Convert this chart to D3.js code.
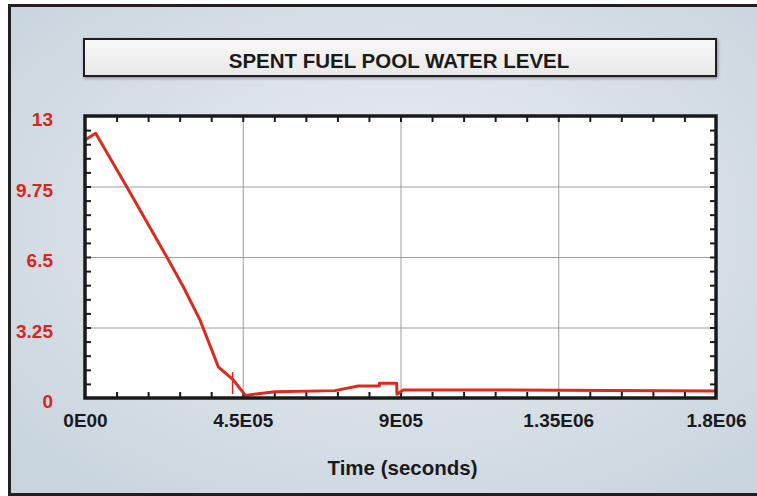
<!DOCTYPE html>
<html>
  <head>
    <title>Spent Fuel Pool Water Level</title>
    <style>
    body {
        margin: 0px;
        overflow: hidden;
        background: #ffffff;
    }

    text {
        font-family: "Liberation Sans", Arial, sans-serif;
        font-weight: bold;
    }

    .grid .tick line {
        stroke: #9c9c9c;
        stroke-width: 1;
    }

    .minor .tick line {
        stroke: #1a1a1a;
        stroke-width: 2;
    }
    </style>
    <script src="https://d3js.org/d3.v7.min.js"></script>
  </head>
  <body>

    <svg width="757" height="496"></svg>

    <script>
        // chart data
        const timeSec = [0, 30500, 119000, 233000, 280400, 328000, 380200, 423000, 457800,
            542000, 713000, 779600, 839500, 840000, 889000, 890000, 908000, 1126800, 1800000];
        const levelFt = [11.89, 12.2, 9.74, 6.51, 5.13, 3.6, 1.44, 0.83, 0.12,
            0.29, 0.34, 0.55, 0.55, 0.68, 0.68, 0.17, 0.37, 0.37, 0.32];

        const xTicks = [0, 450000, 900000, 1350000, 1800000];
        const xTickLabels = ['0E00', '4.5E05', '9E05', '1.35E06', '1.8E06'];
        const yTicks = [0, 3.25, 6.5, 9.75, 13];
        const yTickLabels = ['0', '3.25', '6.5', '9.75', '13'];

        // short red marker on the curve
        const markerTime = [421000];
        const markerRange = [0.18, 1.2];

        const chartTitle = 'SPENT FUEL POOL WATER LEVEL';
        const xAxisLabel = 'Time (seconds)';

        const svg = d3.select('svg');
        const width = +svg.attr('width');
        const height = +svg.attr('height');

        const margin = { top: 116, right: 41, bottom: 98, left: 85 };
        const innerWidth = width - margin.left - margin.right;
        const innerHeight = height - margin.top - margin.bottom;

        const defs = svg.append('defs');

        const bg = defs.append('radialGradient')
            .attr('id', 'bg')
            .attr('cx', '52%').attr('cy', '45%').attr('r', '70%');
        bg.append('stop').attr('offset', '0%').attr('stop-color', '#eceff2');
        bg.append('stop').attr('offset', '100%').attr('stop-color', '#c8d4de');

        const titleFill = defs.append('linearGradient')
            .attr('id', 'titleFill')
            .attr('x1', 0).attr('y1', 0).attr('x2', 0).attr('y2', 1);
        titleFill.append('stop').attr('offset', '0%').attr('stop-color', '#f8f8f8');
        titleFill.append('stop').attr('offset', '100%').attr('stop-color', '#e8e8e8');

        const shadow = defs.append('filter').attr('id', 'shadow')
            .attr('x', '-5%').attr('y', '-30%').attr('width', '110%').attr('height', '160%');
        shadow.append('feDropShadow')
            .attr('dx', 1).attr('dy', 1.5).attr('stdDeviation', 1.5)
            .attr('flood-color', '#000').attr('flood-opacity', 0.35);

        // background panel, frame on left, top and bottom only
        svg.append('rect')
            .attr('x', 0).attr('y', 0)
            .attr('width', width).attr('height', height)
            .attr('fill', '#ffffff');
        svg.append('rect')
            .attr('x', 9.5).attr('y', 5.5)
            .attr('width', width - 9.5).attr('height', height - 7)
            .attr('fill', 'url(#bg)');
        svg.append('path')
            .attr('d', `M${width},5.5H9.5V${height - 1.5}H${width}`)
            .attr('fill', 'none')
            .attr('stroke', '#231f20')
            .attr('stroke-width', 3);

        // title box
        svg.append('rect')
            .attr('x', 84).attr('y', 39)
            .attr('width', 632).attr('height', 37)
            .attr('fill', 'url(#titleFill)')
            .attr('stroke', '#231f20')
            .attr('stroke-width', 2)
            .attr('filter', 'url(#shadow)');
        svg.append('text')
            .attr('x', 399)
            .attr('y', 68)
            .attr('text-anchor', 'middle')
            .style('font-size', '20.5px')
            .attr('fill', '#1a1a1a')
            .text(chartTitle);

        const xScale = d3.scaleLinear()
            .domain([0, 1800000])
            .range([0, innerWidth]);

        const yScale = d3.scaleLinear()
            .domain([0, 13])
            .range([innerHeight, 0]);

        const g = svg.append('g')
            .attr('transform', `translate(${margin.left},${margin.top})`);

        g.append('rect')
            .attr('width', innerWidth)
            .attr('height', innerHeight)
            .attr('fill', '#ffffff');

        // grid lines
        const xGrid = g.append('g').attr('class', 'grid')
            .attr('transform', `translate(0,${innerHeight})`)
            .call(d3.axisBottom(xScale).tickValues(xTicks.slice(1, -1))
                .tickSize(-innerHeight).tickFormat(''));
        xGrid.select('.domain').remove();
        xGrid.selectAll('text').remove();

        const yGrid = g.append('g').attr('class', 'grid')
            .call(d3.axisLeft(yScale).tickValues(yTicks.slice(1, -1))
                .tickSize(-innerWidth).tickFormat(''));
        yGrid.select('.domain').remove();
        yGrid.selectAll('text').remove();

        // minor ticks, pointing inward on all four sides
        const xMinor = d3.range(1, 20).map(i => i * 90000);
        const yMinor = d3.range(1, 20).map(i => i * 0.65);

        const minorAxes = [
            [d3.axisBottom(xScale).tickValues(xMinor), `translate(0,${innerHeight})`],
            [d3.axisTop(xScale).tickValues(xMinor), 'translate(0,0)'],
            [d3.axisLeft(yScale).tickValues(yMinor), 'translate(0,0)'],
            [d3.axisRight(yScale).tickValues(yMinor), `translate(${innerWidth},0)`]
        ];
        minorAxes.forEach(([axis, tr]) => {
            const a = g.append('g').attr('class', 'minor')
                .attr('transform', tr)
                .call(axis.tickSize(-6).tickFormat(''));
            a.select('.domain').remove();
            a.selectAll('text').remove();
        });

        // the water level line
        const line = d3.line()
            .x((d, i) => xScale(timeSec[i]))
            .y(d => yScale(d));

        g.append('path')
            .datum(levelFt)
            .attr('fill', 'none')
            .attr('stroke', '#dc2a1f')
            .attr('stroke-width', 3)
            .attr('stroke-linejoin', 'round')
            .attr('d', line);

        g.selectAll('.marker').data(markerTime)
            .enter().append('line')
            .attr('class', 'marker')
            .attr('x1', d => xScale(d))
            .attr('x2', d => xScale(d))
            .attr('y1', yScale(markerRange[0]))
            .attr('y2', yScale(markerRange[1]))
            .attr('stroke', '#dc2a1f')
            .attr('stroke-width', 1.5);

        // plot frame
        g.append('rect')
            .attr('width', innerWidth)
            .attr('height', innerHeight)
            .attr('fill', 'none')
            .attr('stroke', '#1a1a1a')
            .attr('stroke-width', 3.5);

        // tick labels
        const yAxisG = g.append('g').attr('class', 'y-labels')
            .call(d3.axisLeft(yScale).tickValues(yTicks)
                .tickSize(0).tickPadding(32)
                .tickFormat((d, i) => yTickLabels[i]));
        yAxisG.select('.domain').remove();
        yAxisG.selectAll('.tick line').remove();
        yAxisG.selectAll('.tick text')
            .attr('dy', '0.5em')
            .attr('fill', '#d9261c')
            .style('font-family', '"Liberation Sans", Arial, sans-serif')
            .style('font-size', '19px');

        const xAxisG = g.append('g').attr('class', 'x-labels')
            .attr('transform', `translate(0,${innerHeight})`)
            .call(d3.axisBottom(xScale).tickValues(xTicks)
                .tickSize(0).tickPadding(16)
                .tickFormat((d, i) => xTickLabels[i]));
        xAxisG.select('.domain').remove();
        xAxisG.selectAll('.tick line').remove();
        xAxisG.selectAll('.tick text')
            .attr('fill', '#1a1a1a')
            .style('font-family', '"Liberation Sans", Arial, sans-serif')
            .style('font-size', '19px');

        xAxisG.append('text')
            .attr('x', innerWidth / 2 + 2)
            .attr('y', 77)
            .attr('text-anchor', 'middle')
            .style('font-size', '20.5px')
            .attr('fill', '#1a1a1a')
            .text(xAxisLabel);
    </script>
  </body>
</html>
